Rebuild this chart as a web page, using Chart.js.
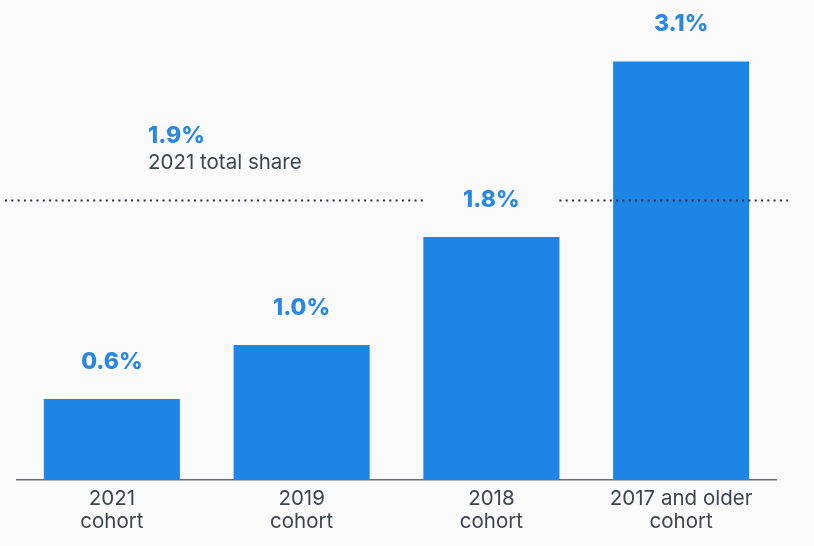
<!DOCTYPE html>
<html>
<head>
<meta charset="utf-8">
<script src="https://cdn.jsdelivr.net/npm/chart.js@4"></script>
<style>
  html, body { margin: 0; padding: 0; background: #fafafa; }
  #wrap { width: 814px; height: 546px; }
</style>
</head>
<body>
<div id="wrap"><canvas id="c"></canvas></div>
<script>
// data
const cohorts = [['2021', 'cohort'], ['2019', 'cohort'], ['2018', 'cohort'], ['2017 and older', 'cohort']];
const shares = [0.6, 1.0, 1.8, 3.1];
const totalShare = 1.9;
const totalLabel = '2021 total share';
// where the dotted reference line sits on the bar scale in the picture
const refLineLevel = 2.07;

const blue = '#1d85e6';
const labelBlue = '#2a87e3';
const textDark = '#3d4452';
const fontFamily = 'Inter, "Open Sans", sans-serif';

// percentage labels above each bar
const valueLabels = {
    id: 'valueLabels',
    afterDatasetsDraw(chart) {
        const ctx = chart.ctx;
        const meta = chart.getDatasetMeta(0);
        ctx.save();
        ctx.font = '800 23px ' + fontFamily;
        ctx.fillStyle = labelBlue;
        ctx.textAlign = 'center';
        ctx.textBaseline = 'middle';
        meta.data.forEach((bar, i) => {
            ctx.fillText(shares[i].toFixed(1) + '%', bar.x, bar.y - 37);
        });
        ctx.restore();
    }
};

// dotted total-share line, broken around the 2018 label
const totalLine = {
    id: 'totalLine',
    afterDatasetsDraw(chart) {
        const ctx = chart.ctx;
        const area = chart.chartArea;
        const y = chart.scales.y.getPixelForValue(refLineLevel);
        const gapBar = chart.getDatasetMeta(0).data[2];
        const half = gapBar.width / 2;
        ctx.save();
        ctx.strokeStyle = '#2b3140';
        ctx.lineWidth = 2;
        ctx.setLineDash([2, 4.3]);
        ctx.beginPath();
        ctx.moveTo(area.left - 12, y);
        ctx.lineTo(gapBar.x - half, y);
        ctx.moveTo(gapBar.x + half, y);
        ctx.lineTo(area.right + 12, y);
        ctx.stroke();
        ctx.setLineDash([]);

        const tx = area.left + 131;
        ctx.textAlign = 'left';
        ctx.textBaseline = 'middle';
        ctx.font = '800 23px ' + fontFamily;
        ctx.fillStyle = labelBlue;
        ctx.fillText(totalShare.toFixed(1) + '%', tx, y - 64);
        ctx.font = '20.5px ' + fontFamily;
        ctx.fillStyle = textDark;
        ctx.fillText(totalLabel, tx, y - 38);
        ctx.restore();
    }
};

new Chart(document.getElementById('c'), {
    type: 'bar',
    data: {
        labels: cohorts,
        datasets: [{
            data: shares,
            backgroundColor: blue,
            borderWidth: 0,
            categoryPercentage: 1,
            barPercentage: 0.717
        }]
    },
    options: {
        responsive: true,
        maintainAspectRatio: false,
        animation: false,
        layout: { padding: { top: 7.5, left: 17, right: 38, bottom: 0 } },
        plugins: {
            legend: { display: false },
            tooltip: { enabled: false }
        },
        scales: {
            x: {
                grid: { display: false, drawTicks: false },
                border: { display: true, color: '#6b6e75', width: 1.5 },
                ticks: {
                    color: textDark,
                    padding: 8,
                    maxRotation: 0,
                    autoSkip: false,
                    font: { family: fontFamily, size: 20.5, lineHeight: 1.1 }
                },
                afterFit(scale) { scale.height = 66; }
            },
            y: {
                display: false,
                min: 0,
                max: 3.5
            }
        }
    },
    plugins: [valueLabels, totalLine]
});
</script>
</body>
</html>
